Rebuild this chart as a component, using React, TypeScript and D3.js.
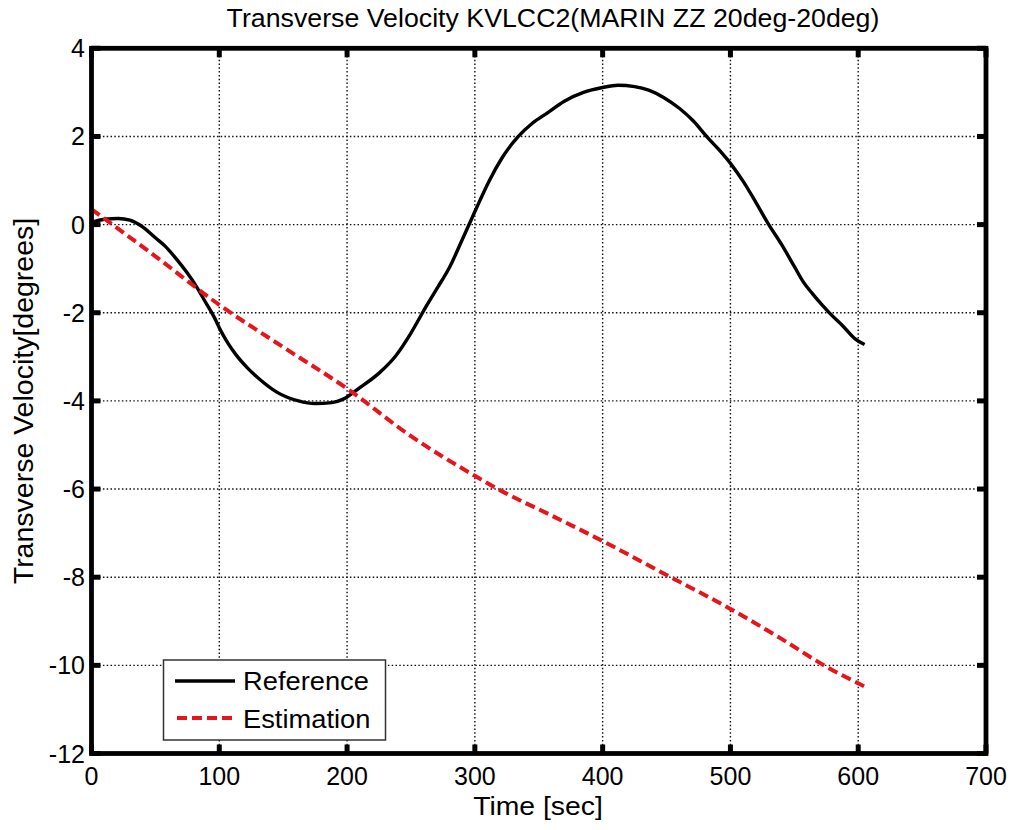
import React, { useEffect, useRef } from "react";
import * as d3 from "d3";

const refTime = [0, 10, 21, 30, 40, 50, 58, 67, 75, 82, 90, 96, 101, 107, 113, 122, 132, 145, 162, 175, 188, 197, 210, 225, 238, 250, 262, 271, 280, 290, 297, 304, 311, 321, 334, 345, 356, 370, 385, 400, 412, 425, 436, 448, 460, 471, 482, 491, 500, 510, 520, 530, 540, 550, 557, 564, 571, 578, 588, 597, 605];
const refValue = [0.05, 0.12, 0.14, 0.1, -0.05, -0.3, -0.5, -0.8, -1.1, -1.4, -1.8, -2.1, -2.4, -2.7, -2.95, -3.25, -3.52, -3.8, -4.0, -4.06, -4.04, -3.96, -3.7, -3.37, -2.98, -2.46, -1.85, -1.42, -0.98, -0.35, 0.1, 0.55, 0.98, 1.5, 2.0, 2.3, 2.52, 2.8, 3.0, 3.11, 3.16, 3.13, 3.05, 2.88, 2.64, 2.35, 1.98, 1.7, 1.39, 0.98, 0.5, 0.0, -0.45, -0.95, -1.3, -1.56, -1.8, -2.02, -2.3, -2.58, -2.72];

const estTime = [0, 50, 100, 150, 200, 250, 300, 320, 360, 400, 450, 500, 540, 575, 605];
const estValue = [0.35, -0.72, -1.82, -2.78, -3.72, -4.8, -5.7, -6.03, -6.6, -7.18, -7.95, -8.72, -9.4, -10.03, -10.48];

const xTicks = [0, 100, 200, 300, 400, 500, 600, 700];
const yTicks = [4, 2, 0, -2, -4, -6, -8, -10, -12];

const titleText = "Transverse Velocity KVLCC2(MARIN ZZ 20deg-20deg)";
const xLabel = "Time [sec]";
const yLabel = "Transverse Velocity[degrees]";
const legendLabels = ["Reference", "Estimation"];

const W = 1015;
const H = 830;
const FONT = "'Liberation Sans', Arial, sans-serif";

export default function App() {
  const ref = useRef<SVGSVGElement | null>(null);

  useEffect(() => {
    const svg = d3.select(ref.current);
    svg.selectAll("*").remove();

    const x = d3.scaleLinear().domain([0, 700]).range([91.5, 986]);
    const y = d3.scaleLinear().domain([-12, 4]).range([753.5, 48.3]);
    const [x0, x1] = x.range();
    const [yb, yt] = y.range();

    svg.append("rect").attr("width", W).attr("height", H).attr("fill", "#fff");

    const txt = (px: number, py: number, s: string, size: number, sx: number, anchor: string) =>
      svg.append("text").attr("transform", `translate(${px},${py}) scale(${sx},1)`)
        .attr("text-anchor", anchor).attr("font-family", FONT).attr("font-size", size)
        .attr("fill", "#000").text(s);

    // grid
    const g = svg.append("g");
    xTicks.slice(1, -1).forEach((t) => {
      g.append("line").attr("x1", x(t)).attr("x2", x(t)).attr("y1", yt).attr("y2", yb)
        .attr("stroke", "#111").attr("stroke-width", 1.4).attr("stroke-dasharray", "1.5,2.3");
    });
    yTicks.slice(1, -1).forEach((v) => {
      g.append("line").attr("x1", x0).attr("x2", x1).attr("y1", y(v)).attr("y2", y(v))
        .attr("stroke", "#111").attr("stroke-width", 1.4).attr("stroke-dasharray", "1.5,2.3");
    });

    // data lines
    const refData = refTime.map((t, i) => [t, refValue[i]] as [number, number]);
    const estData = estTime.map((t, i) => [t, estValue[i]] as [number, number]);
    const line = d3.line<[number, number]>().x((d) => x(d[0])).y((d) => y(d[1])).curve(d3.curveMonotoneX);

    svg.append("path").attr("d", line(refData)).attr("fill", "none").attr("stroke", "#000").attr("stroke-width", 3.4).attr("stroke-linejoin", "round");
    svg.append("path").attr("d", line(estData)).attr("fill", "none").attr("stroke", "#e8141c").attr("stroke-width", 4).attr("stroke-dasharray", "10,5");

    // frame
    svg.append("rect").attr("x", x0).attr("y", yt).attr("width", x1 - x0).attr("height", yb - yt)
      .attr("fill", "none").attr("stroke", "#000").attr("stroke-width", 4.8);

    // ticks
    const tl = 9;
    xTicks.forEach((t) => {
      svg.append("line").attr("x1", x(t)).attr("x2", x(t)).attr("y1", yb).attr("y2", yb - tl).attr("stroke", "#000").attr("stroke-width", 5);
      svg.append("line").attr("x1", x(t)).attr("x2", x(t)).attr("y1", yt).attr("y2", yt + tl).attr("stroke", "#000").attr("stroke-width", 5);
      txt(x(t), 785, String(t), 25, 1, "middle");
    });
    yTicks.forEach((v) => {
      svg.append("line").attr("x1", x0).attr("x2", x0 + tl).attr("y1", y(v)).attr("y2", y(v)).attr("stroke", "#000").attr("stroke-width", 5);
      svg.append("line").attr("x1", x1).attr("x2", x1 - tl).attr("y1", y(v)).attr("y2", y(v)).attr("stroke", "#000").attr("stroke-width", 5);
      txt(85, y(v) + 9, String(v), 25, 1, "end");
    });

    // labels
    txt(553, 27, titleText, 25, 1.07, "middle");
    txt(538, 815, xLabel, 26.5, 1.07, "middle");
    svg.append("text").attr("transform", "translate(33,401) rotate(-90)").attr("text-anchor", "middle")
      .attr("font-family", FONT).attr("font-size", 28.5).text(yLabel);

    // legend
    const lg = svg.append("g");
    lg.append("rect").attr("x", 163.5).attr("y", 660).attr("width", 222).attr("height", 80)
      .attr("fill", "#fff").attr("stroke", "#333").attr("stroke-width", 1.5);
    lg.append("line").attr("x1", 175).attr("x2", 235).attr("y1", 681).attr("y2", 681).attr("stroke", "#000").attr("stroke-width", 3.4);
    lg.append("line").attr("x1", 177).attr("x2", 235).attr("y1", 718).attr("y2", 718).attr("stroke", "#e8141c").attr("stroke-width", 4).attr("stroke-dasharray", "10,5");
    txt(243, 690, legendLabels[0], 26, 1.05, "start");
    txt(243, 728, legendLabels[1], 26, 1.05, "start");
  }, []);

  return (
    <div style={{ position: "absolute", left: 0, top: 0 }}>
      <svg ref={ref} width={W} height={H} style={{ display: "block" }} />
    </div>
  );
}
